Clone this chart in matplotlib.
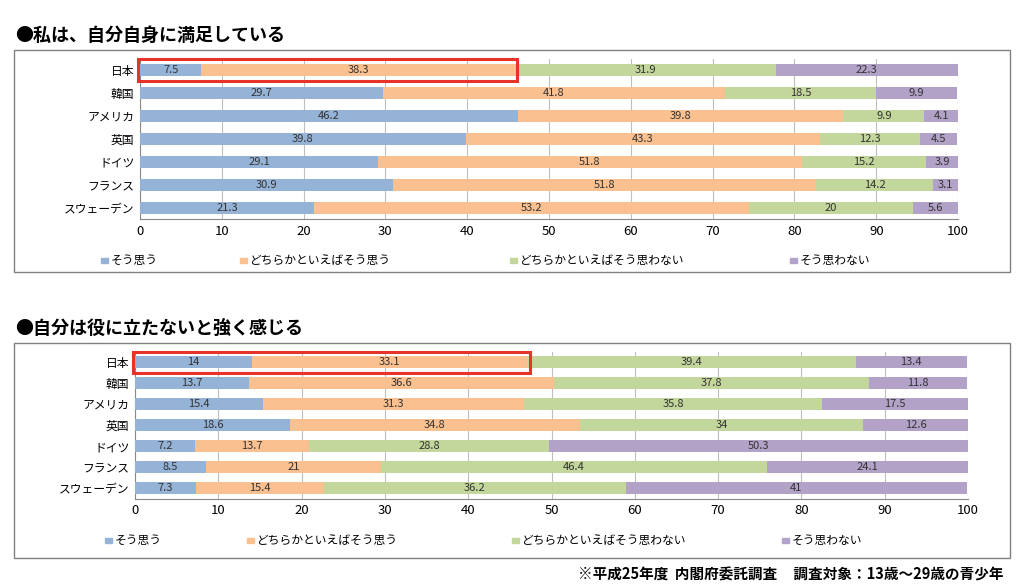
import matplotlib
matplotlib.use("Agg")
import matplotlib.pyplot as plt
from matplotlib.patches import Rectangle
import numpy as np

plt.rcParams["font.family"] = "Noto Sans CJK JP"

countries = ["日本", "韓国", "アメリカ", "英国", "ドイツ", "フランス", "スウェーデン"]
series_names = ["そう思う", "どちらかといえばそう思う", "どちらかといえばそう思わない", "そう思わない"]
colors = ["#95B3D7", "#FAC090", "#C3D69B", "#B3A2C7"]

title1 = "●私は、自分自身に満足している"
sat_agree = [7.5, 29.7, 46.2, 39.8, 29.1, 30.9, 21.3]
sat_some_agree = [38.3, 41.8, 39.8, 43.3, 51.8, 51.8, 53.2]
sat_some_disagree = [31.9, 18.5, 9.9, 12.3, 15.2, 14.2, 20]
sat_disagree = [22.3, 9.9, 4.1, 4.5, 3.9, 3.1, 5.6]

title2 = "●自分は役に立たないと強く感じる"
use_agree = [14, 13.7, 15.4, 18.6, 7.2, 8.5, 7.3]
use_some_agree = [33.1, 36.6, 31.3, 34.8, 13.7, 21, 15.4]
use_some_disagree = [39.4, 37.8, 35.8, 34, 28.8, 46.4, 36.2]
use_disagree = [13.4, 11.8, 17.5, 12.6, 50.3, 24.1, 41]

xticks = list(range(0, 101, 10))
footnote = "※平成25年度  内閣府委託調査     調査対象：13歳～29歳の青少年"

W, H = 1024, 588
fig = plt.figure(figsize=(W/100, H/100), dpi=100)

def fx(x): return x / W
def fy(y): return 1 - y / H

def panel(title, ty, box, ax_px, data, legend_y, legend_x):
    fig.text(fx(15), fy(ty), title, fontsize=13, fontweight="bold", va="center", ha="left")
    bx0, by0, bx1, by1 = box
    fig.patches.append(Rectangle((fx(bx0), fy(by1)), fx(bx1-bx0), (by1-by0)/H,
                                 transform=fig.transFigure, fill=False, ec="#808080", lw=1))
    x0, y0, x1, y1 = ax_px
    ax = fig.add_axes([fx(x0), fy(y1), fx(x1-x0), (y1-y0)/H])
    y = np.arange(len(countries))
    left = np.zeros(len(countries))
    for vals, c in zip(data, colors):
        vals = np.array(vals, float)
        ax.barh(y, vals, left=left, color=c, height=0.55, zorder=3)
        for yi, l, v in zip(y, left, vals):
            ax.text(l + v/2, yi, f"{v:g}", ha="center", va="center", fontsize=8, color="#333333", zorder=4)
        left += vals
    ax.set_xlim(0, 100)
    ax.set_ylim(len(countries) - 0.5, -0.5)
    ax.set_yticks(y)
    ax.set_yticklabels(countries, fontsize=8.5)
    ax.set_xticks(xticks)
    ax.set_xticklabels([str(t) for t in xticks], fontsize=9.5)
    ax.grid(axis="x", color="#BFBFBF", lw=0.8, zorder=0)
    for s in ["top", "right"]:
        ax.spines[s].set_visible(False)
    ax.spines["left"].set_color("#888888")
    ax.spines["bottom"].set_color("#888888")
    ax.tick_params(length=0, pad=4)
    # red highlight around Japan's first two segments
    ax.add_patch(Rectangle((-0.3, -0.5), data[0][0] + data[1][0] + 0.6, 1.0,
                           fill=False, ec="#E8332A", lw=2.2, zorder=5, clip_on=False))
    for name, c, lx in zip(series_names, colors, legend_x):
        fig.patches.append(Rectangle((fx(lx), fy(legend_y) - 2.5/H), 7/W, 5/H,
                                     transform=fig.transFigure, color=c))
        fig.text(fx(lx + 10), fy(legend_y), name, fontsize=8.5, va="center", ha="left")
    return ax

panel(title1, 35, (14, 50, 1010, 272), (140, 58.5, 958, 219.5),
      [sat_agree, sat_some_agree, sat_some_disagree, sat_disagree], 260, [101, 240, 510, 790])
panel(title2, 328, (14, 343, 1010, 558), (135, 351.5, 968, 498.5),
      [use_agree, use_some_agree, use_some_disagree, use_disagree], 540, [105, 247, 512, 782])

fig.text(fx(1003), fy(575), footnote, fontsize=10.5, fontweight="bold", ha="right", va="center")
fig.savefig("out.png", dpi=100)
